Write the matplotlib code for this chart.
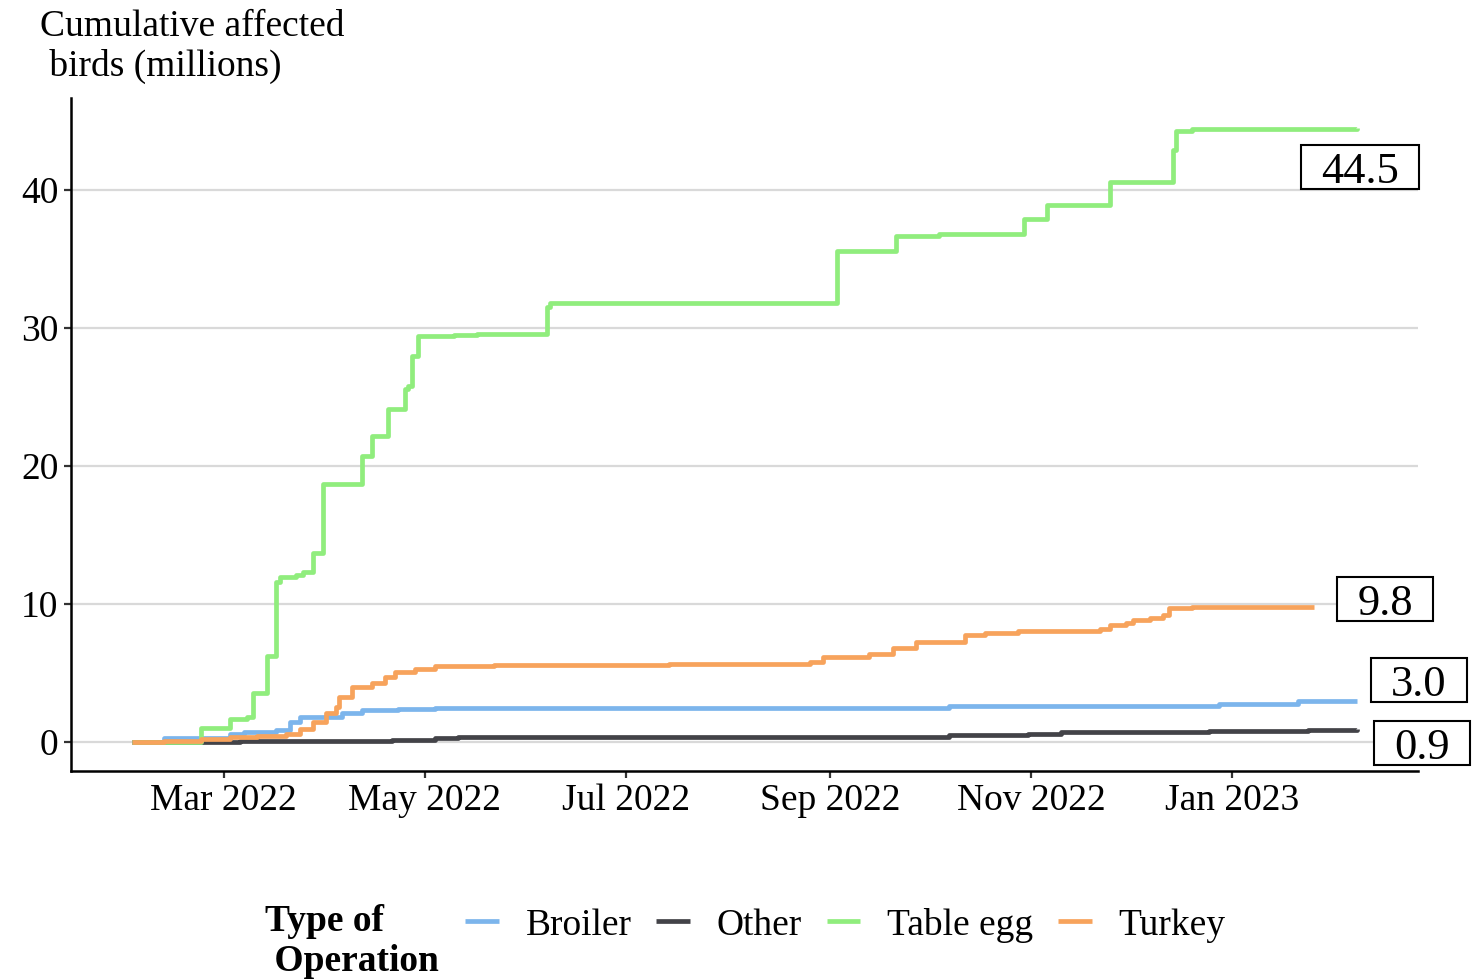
import matplotlib
matplotlib.use("Agg")
import matplotlib.pyplot as plt
import matplotlib.dates as mdates
from matplotlib.patches import Rectangle
import numpy as np
import pandas as pd

# ---------------- data ----------------
table_egg_dates = ["2022-02-01", "2022-02-22", "2022-03-03", "2022-03-08", "2022-03-10", "2022-03-14",
                   "2022-03-17", "2022-03-18", "2022-03-23", "2022-03-25", "2022-03-28", "2022-03-31",
                   "2022-04-12", "2022-04-15", "2022-04-20", "2022-04-25", "2022-04-26", "2022-04-27",
                   "2022-04-29", "2022-05-10", "2022-05-17", "2022-06-07", "2022-06-08", "2022-09-03",
                   "2022-09-21", "2022-10-04", "2022-10-30", "2022-11-06", "2022-11-25", "2022-12-14",
                   "2022-12-15", "2022-12-20", "2023-02-08"]
table_egg_vals = [0.0, 1.0, 1.66, 1.8, 3.52, 6.22,
                  11.6, 11.96, 12.1, 12.3, 13.7, 18.7,
                  20.75, 22.2, 24.1, 25.6, 25.8, 28.0,
                  29.4, 29.5, 29.6, 31.56, 31.8, 35.55,
                  36.7, 36.8, 37.9, 38.9, 40.6, 42.9,
                  44.26, 44.45, 44.5]

turkey_dates = ["2022-02-01", "2022-02-11", "2022-02-22", "2022-03-03", "2022-03-11", "2022-03-20",
                "2022-03-24", "2022-03-28", "2022-04-01", "2022-04-04", "2022-04-05", "2022-04-09",
                "2022-04-15", "2022-04-19", "2022-04-22", "2022-04-28", "2022-05-04", "2022-05-22",
                "2022-07-14", "2022-08-26", "2022-08-30", "2022-09-13", "2022-09-20", "2022-09-27",
                "2022-10-12", "2022-10-18", "2022-10-28", "2022-11-22", "2022-11-25", "2022-11-30",
                "2022-12-02", "2022-12-07", "2022-12-11", "2022-12-13", "2022-12-20", "2023-01-26"]
turkey_vals = [0.0, 0.1, 0.2, 0.39, 0.45, 0.55,
               0.92, 1.47, 2.08, 2.56, 3.28, 4.0,
               4.3, 4.73, 5.1, 5.26, 5.5, 5.6,
               5.62, 5.82, 6.16, 6.39, 6.8, 7.22,
               7.75, 7.88, 8.03, 8.2, 8.45, 8.6,
               8.83, 9.0, 9.24, 9.72, 9.8, 9.8]

broiler_dates = ["2022-02-01", "2022-02-11", "2022-03-03", "2022-03-07", "2022-03-17", "2022-03-21",
                 "2022-03-24", "2022-04-06", "2022-04-12", "2022-04-23", "2022-05-04", "2022-08-22",
                 "2022-10-07", "2022-12-28", "2023-01-21", "2023-02-08"]
broiler_vals = [0.0, 0.31, 0.55, 0.72, 0.87, 1.47,
                1.83, 2.13, 2.32, 2.4, 2.45, 2.5,
                2.6, 2.75, 3.0, 3.0]

other_dates = ["2022-02-01", "2022-03-06", "2022-04-21", "2022-05-04", "2022-05-11", "2022-06-24",
               "2022-09-22", "2022-10-07", "2022-10-31", "2022-11-10", "2022-12-25", "2023-01-24",
               "2023-02-08"]
other_vals = [0.0, 0.05, 0.14, 0.27, 0.34, 0.36,
              0.4, 0.52, 0.6, 0.73, 0.82, 0.9, 0.93]

categories = ["Broiler", "Other", "Table egg", "Turkey"]
y_ticks = [0, 10, 20, 30, 40]

# ---------------- style ----------------
colors = {"Broiler": "#7cb5ec", "Other": "#434348", "Table egg": "#90ed7d", "Turkey": "#f7a35c"}
plt.rcParams['font.family'] = ['Liberation Serif', 'DejaVu Serif']
FS = 27

series = {
    "Broiler": (broiler_dates, broiler_vals),
    "Other": (other_dates, other_vals),
    "Table egg": (table_egg_dates, table_egg_vals),
    "Turkey": (turkey_dates, turkey_vals),
}

W, H = 1483, 980
fig = plt.figure(figsize=(W / 100, H / 100), dpi=100)
ax = fig.add_axes([71/W, 1-771/H, (1418-71)/W, (771-98)/H])

handles = []
for name in categories:
    d, v = series[name]
    h, = ax.step(pd.to_datetime(d), v, where="post", color=colors[name], lw=3.4,
                 solid_capstyle="butt", label=name, zorder=3)
    handles.append(h)

ax.set_xlim(pd.Timestamp("2022-01-13 15:00"), pd.Timestamp("2023-02-26 12:00"))
ax.set_ylim(-2.1, 46.67)
ax.set_yticks(y_ticks)
ax.yaxis.grid(True, color="#d9d9d9", lw=1.6, zorder=0)
ax.xaxis.grid(False)
ax.xaxis.set_major_locator(mdates.MonthLocator(bymonth=[1, 3, 5, 7, 9, 11]))
ax.xaxis.set_major_formatter(mdates.DateFormatter("%b %Y"))
for s in ["top", "right"]:
    ax.spines[s].set_visible(False)
for s in ["left", "bottom"]:
    ax.spines[s].set_linewidth(1.8)
    ax.spines[s].set_color("black")
ax.tick_params(axis="both", labelsize=FS, length=5, width=1.6, color="#333333", pad=4)
ax.set_axisbelow(True)

# end labels (boxed), placed to the right of the series ends
label_pos = {
    "Table egg": ("2023-02-09", 41.7),
    "Turkey": ("2023-02-16 12:00", 10.36),
    "Broiler": ("2023-02-26 18:00", 4.53),
    "Other": ("2023-02-27 18:00", -0.07),
}
LFS = 32
fig.canvas.draw()
renderer = fig.canvas.get_renderer()
for name in categories:
    d, v = series[name]
    px, py = label_pos[name]
    cx, cy = ax.transData.transform((mdates.date2num(pd.Timestamp(px)), py))
    t = fig.text(cx / W, (cy - 16) / H, f"{v[-1]:.1f}", fontsize=LFS, ha="center",
                 va="baseline", zorder=6)
    ext = t.get_window_extent(renderer)
    bw, bh = ext.width + 40, 44
    rect = Rectangle(((cx - bw / 2) / W, (cy - bh / 2) / H), bw / W, bh / H,
                     transform=fig.transFigure, fc="white", ec="black", lw=1.5, zorder=5)
    fig.add_artist(rect)

# y label at top-left
fig.text(40/W, 1-10/H, "Cumulative affected\n birds (millions)", fontsize=FS,
         ha="left", va="top", linespacing=1.15)

# legend
leg = fig.legend(handles=handles, labels=categories, loc="center left",
                 bbox_to_anchor=(465/W, 1-925/H), ncol=4, frameon=False,
                 fontsize=FS, handlelength=0.9, handletextpad=0.72, columnspacing=0.65,
                 borderpad=0, borderaxespad=0)
fig.text(265/W, 1-904/H, "Type of\n Operation", fontsize=FS, fontweight="bold",
         ha="left", va="top", linespacing=1.17)

fig.savefig("out.png", dpi=100)
